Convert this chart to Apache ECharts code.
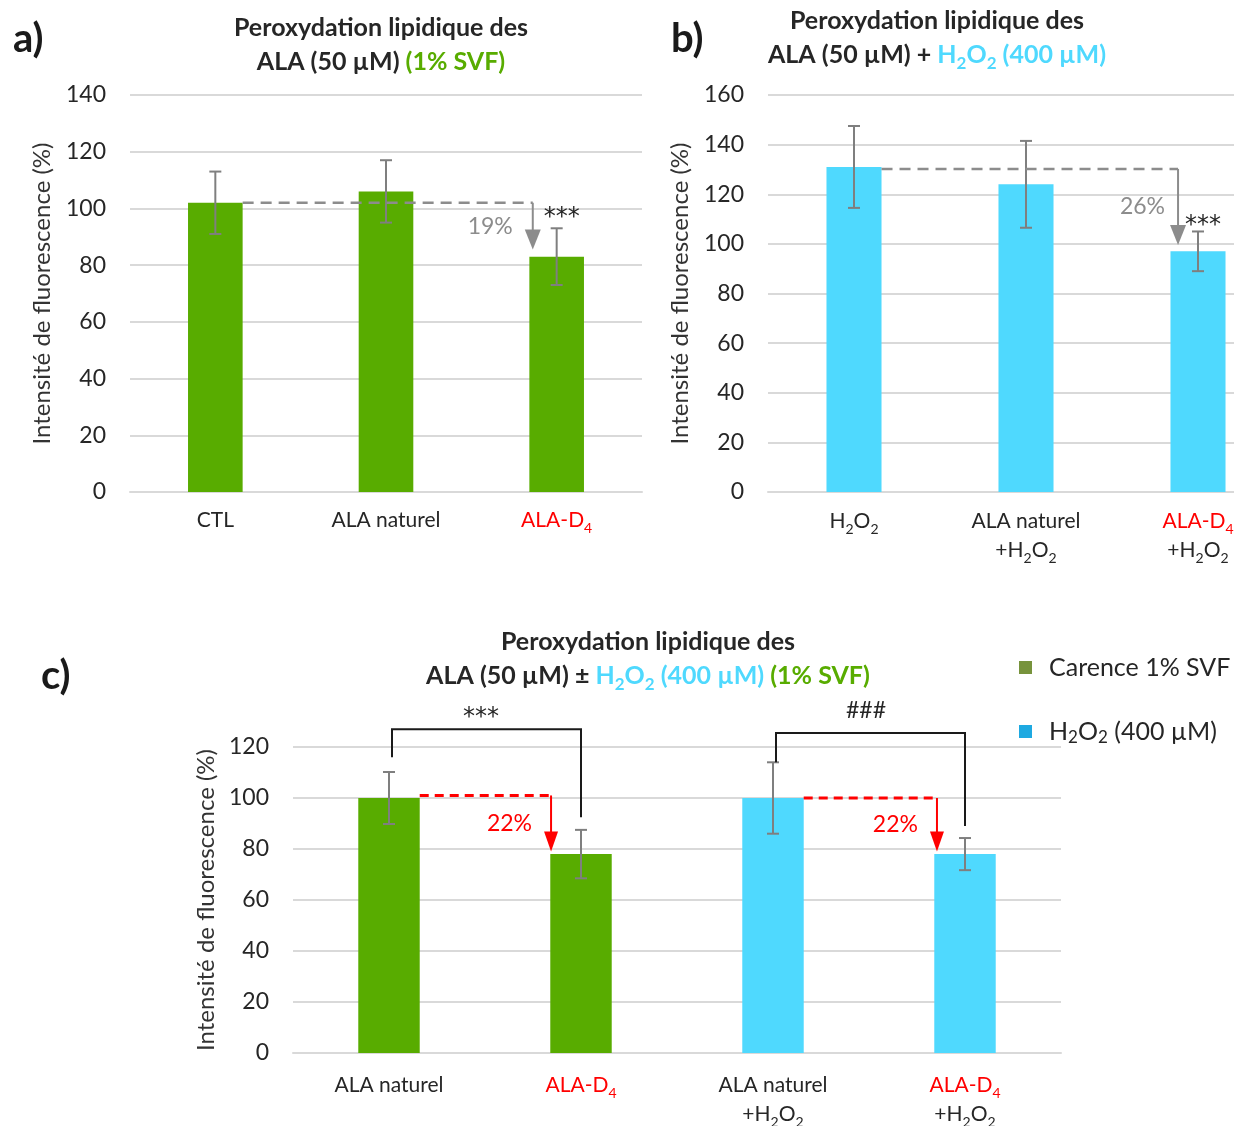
<!DOCTYPE html>
<html><head><meta charset="utf-8">
<script src="https://cdn.jsdelivr.net/npm/echarts@6/dist/echarts.min.js"></script>
<style>html,body{margin:0;padding:0;background:#fff}#c{width:1234px;height:1126px}</style>
</head><body><div id="c"></div>
<script>
// ---------- data ----------
const catsA = ['CTL', 'ALA naturel', 'ALA-D₄'];
const meanA = [102, 106, 83];
const sdA   = [11, 11, 10];

const catsB = ['H₂O₂', 'ALA naturel\n+H₂O₂', 'ALA-D₄\n+H₂O₂'];
const meanB = [131, 124, 97];
const sdB   = [16.5, 17.5, 8];

const catsC = ['ALA naturel', 'ALA-D₄', 'ALA naturel\n+H₂O₂', 'ALA-D₄\n+H₂O₂'];
const meanC_SVF  = [100, 78, null, null];
const meanC_H2O2 = [null, null, 100, 78];
const sdC   = [10.2, 9.5, 14, 6.3];
const meanC = [100, 78, 100, 78];

const seriesNamesC = ['Carence 1% SVF', 'H₂O₂ (400 µM)'];

// annotations: [fromCat, toCat, level, target]
const dropA = [[0, 2, 102, 85.5]];
const dropB = [[0, 2, 130.2, 99.5]];
const dropC = [[0, 1, 101, 79], [2, 3, 100, 79]];
const dropLabelA = ['19%'], dropLabelB = ['26%'], dropLabelC = ['22%', '22%'];
// brackets: [fromCat, toCat, leftBottom, top, rightBottom]
const bracketsC = [[0, 1, 116, 127, 92.5], [2, 3, 114, 125.5, 89]];
const bracketLabelsC = ['***', '###'];
const starA = [2], starB = [2];

// ---------- styles ----------
const FONT = 'Lato, "Noto Sans", sans-serif';
const STARFONT = '"DejaVu Sans", sans-serif';
const GREEN = '#58AC00', CYAN = '#4FD9FE';
const ERR = '#7f7f7f', GRID = '#d9d9d9', TXT = '#262626';

// turn text with unicode subscripts into rich tokens
function richify(s, key) {
  const map = {'₂': '2', '₄': '4'};
  let out = '', buf = '';
  for (const ch of s) {
    if (map[ch]) {
      if (buf) out += '{' + key + '|' + buf + '}';
      buf = '';
      out += '{' + key + 's|' + map[ch] + '}';
    } else buf += ch;
  }
  if (buf) out += '{' + key + '|' + buf + '}';
  return out;
}
function richStyles(key, color, size, weight, lh, subLh) {
  const o = {};
  o[key] = {color: color, fontSize: size, fontWeight: weight, fontFamily: FONT, lineHeight: lh};
  o[key + 's'] = {color: color, fontSize: Math.round(size * 0.68), fontWeight: weight, fontFamily: FONT,
                  lineHeight: subLh, verticalAlign: 'bottom'};
  return o;
}

function errData(mean, sd) {
  return mean.map((m, i) => [i, m - sd[i], m + sd[i]]);
}
function errRender(params, api) {
  const x = api.value(0);
  const lo = api.coord([x, api.value(1)]), hi = api.coord([x, api.value(2)]);
  const c = 6, st = {stroke: ERR, lineWidth: 2};
  return {type: 'group', children: [
    {type: 'line', shape: {x1: lo[0], y1: lo[1], x2: hi[0], y2: hi[1]}, style: st},
    {type: 'line', shape: {x1: hi[0]-c, y1: hi[1], x2: hi[0]+c, y2: hi[1]}, style: st},
    {type: 'line', shape: {x1: lo[0]-c, y1: lo[1], x2: lo[0]+c, y2: lo[1]}, style: st}
  ]};
}
function dropRenderFactory(labels, color, dashW, dash, arrowOff, headW, headH, barFrac, labelGap) {
  return function (params, api) {
    const f = api.value(0), t = api.value(1), lv = api.value(2), tg = api.value(3);
    const band = api.size([1, 0])[0];
    const p0 = api.coord([f, lv]);
    const p1 = api.coord([t, lv]);
    const pT = api.coord([t, tg]);
    const xs = p0[0] + band * barFrac / 2;
    const xa = p1[0] + band * arrowOff[params.dataIndex];
    const midY = (p1[1] + pT[1]) / 2;
    return {type: 'group', children: [
      {type: 'line', shape: {x1: xs, y1: p0[1], x2: xa, y2: p0[1]},
       style: {stroke: color, lineWidth: dashW, lineDash: dash}},
      {type: 'line', shape: {x1: xa, y1: p0[1], x2: xa, y2: pT[1] - headH + 2},
       style: {stroke: color, lineWidth: 2}},
      {type: 'polygon', shape: {points: [[xa - headW/2, pT[1] - headH], [xa + headW/2, pT[1] - headH], [xa, pT[1]]]},
       style: {fill: color}},
      {type: 'text', x: xa - labelGap, y: midY,
       style: {text: labels[params.dataIndex], fill: color, font: '23px ' + FONT, textAlign: 'right', textVerticalAlign: 'middle'}}
    ]};
  };
}
function starRenderFactory(mean, sd, dx, dy) {
  return function (params, api) {
    const i = api.value(0);
    const p = api.coord([i, mean[i] + sd[i]]);
    return {type: 'text', x: p[0] + dx, y: p[1] - dy,
      style: {text: '***', fill: TXT, font: '24px ' + STARFONT, textAlign: 'center', textVerticalAlign: 'middle'}};
  };
}
const bracketLabelDy = [11, 22], bracketLabelDx = [-4, -3];
const bracketLabelFont = ['24px ' + STARFONT, '23px ' + FONT];
function bracketRender(params, api) {
  const f = api.value(0), t = api.value(1), k = params.dataIndex;
  const a = api.coord([f, api.value(2)]), top = api.coord([f, api.value(3)]);
  const b = api.coord([t, api.value(4)]);
  const st = {stroke: '#1a1a1a', lineWidth: 2, fill: null};
  return {type: 'group', children: [
    {type: 'polyline', shape: {points: [[a[0]+3, a[1]], [a[0]+3, top[1]], [b[0], top[1]], [b[0], b[1]]]}, style: st},
    {type: 'text', x: (a[0] + b[0]) / 2 + bracketLabelDx[k], y: top[1] - bracketLabelDy[k],
     style: {text: bracketLabelsC[k], fill: TXT, font: bracketLabelFont[k], textAlign: 'center', textVerticalAlign: 'middle'}}
  ]};
}

const axisLabelRich = Object.assign({},
  richStyles('r', '#ff0000', 21, 'normal', 29, 27),
  richStyles('k', TXT, 21, 'normal', 29, 27));
function catFormatter(v) {
  return v.split('\n').map(s => richify(s, s.indexOf('ALA-D') === 0 ? 'r' : 'k')).join('\n');
}
function yAxis(gi, max, gap) {
  return {gridIndex: gi, type: 'value', min: 0, max: max, interval: 20,
    name: 'Intensité de fluorescence (%)', nameLocation: 'middle', nameGap: gap,
    nameTextStyle: {fontSize: 24, color: '#333', fontFamily: FONT},
    axisLabel: {fontSize: 23, color: TXT, fontFamily: FONT, margin: 24},
    axisLine: {show: false}, axisTick: {show: false},
    splitLine: {lineStyle: {color: GRID, width: 2}}};
}
function xAxis(gi, cats, margin) {
  return {gridIndex: gi, type: 'category', data: cats,
    axisLine: {lineStyle: {color: GRID, width: 2}}, axisTick: {show: false},
    axisLabel: {margin: margin, interval: 0, formatter: catFormatter, rich: axisLabelRich}};
}

const TS = 25, TLH = 34;
const titleRich = Object.assign({},
  richStyles('k', TXT, TS, 'bold', TLH, 20),
  richStyles('g', GREEN, TS, 'bold', TLH, 20),
  richStyles('c', CYAN, TS, 'bold', TLH, 20));
const line1 = richify('Peroxydation lipidique des', 'k');
const titleTextA = line1 + '\n' + richify('ALA (50 µM) ', 'k') + richify('(1% SVF)', 'g');
const titleTextB = line1 + '\n' + richify('ALA (50 µM) + ', 'k') + richify('H₂O₂ (400 µM)', 'c');
const titleTextC = line1 + '\n' + richify('ALA (50 µM) ± ', 'k') + richify('H₂O₂ (400 µM) ', 'c') + richify('(1% SVF)', 'g');
const panelLabel = {fontSize: 40, fontWeight: 'bold', color: '#1a1a1a', fontFamily: FONT};

const option = {
  animation: false,
  textStyle: {fontFamily: FONT},
  title: [
    {text: 'a)', left: 8, top: 14, textStyle: panelLabel},
    {text: 'b)', left: 666, top: 14, textStyle: panelLabel},
    {text: 'c)', left: 36, top: 651, textStyle: panelLabel},
    {text: titleTextA, left: 376, top: 6, textAlign: 'center', textStyle: {rich: titleRich}},
    {text: titleTextB, left: 932, top: -1, textAlign: 'center', textStyle: {rich: titleRich}},
    {text: titleTextC, left: 643, top: 620, textAlign: 'center', textStyle: {rich: titleRich}}
  ],
  legend: {
    left: 1014, top: 650, orient: 'vertical', itemGap: 39, itemWidth: 13, itemHeight: 13, icon: 'rect',
    formatter: name => richify(name, 'k'),
    textStyle: {padding: [0, 0, 0, 12], rich: richStyles('k', TXT, 25, 'normal', 30, 24)},
    data: [{name: seriesNamesC[0], itemStyle: {color: '#77933C'}}, {name: seriesNamesC[1], itemStyle: {color: '#1EA9E1'}}],
    selectedMode: false
  },
  grid: [
    {left: 130, top: 95, width: 512, height: 397, outerBoundsMode: 'none'},
    {left: 768, top: 95, width: 516, height: 397, outerBoundsMode: 'none'},
    {left: 293, top: 747, width: 768, height: 306, outerBoundsMode: 'none'}
  ],
  xAxis: [xAxis(0, catsA, 14), xAxis(1, catsB, 15), xAxis(2, catsC, 18)],
  yAxis: [yAxis(0, 140, 76), yAxis(1, 160, 76), yAxis(2, 120, 75)],
  series: [
    {type: 'bar', xAxisIndex: 0, yAxisIndex: 0, data: meanA, barWidth: '32%', itemStyle: {color: GREEN}},
    {type: 'custom', xAxisIndex: 0, yAxisIndex: 0, data: errData(meanA, sdA), renderItem: errRender, z: 5},
    {type: 'bar', xAxisIndex: 1, yAxisIndex: 1, data: meanB, barWidth: '32%', itemStyle: {color: CYAN}},
    {type: 'custom', xAxisIndex: 1, yAxisIndex: 1, data: errData(meanB, sdB), renderItem: errRender, z: 5},
    {name: seriesNamesC[0], type: 'bar', xAxisIndex: 2, yAxisIndex: 2, data: meanC_SVF, barWidth: '32%', barGap: '-100%', itemStyle: {color: GREEN}},
    {name: seriesNamesC[1], type: 'bar', xAxisIndex: 2, yAxisIndex: 2, data: meanC_H2O2, barWidth: '32%', barGap: '-100%', itemStyle: {color: CYAN}},
    {type: 'custom', xAxisIndex: 2, yAxisIndex: 2, data: errData(meanC, sdC), renderItem: errRender, z: 5},
    {type: 'custom', xAxisIndex: 0, yAxisIndex: 0, data: dropA, z: 6, clip: false,
     renderItem: dropRenderFactory(dropLabelA, '#8c8c8c', 2.5, [11, 7], [-0.14], 16, 20, 0.32, 20)},
    {type: 'custom', xAxisIndex: 1, yAxisIndex: 1, data: dropB, z: 6, clip: false,
     renderItem: dropRenderFactory(dropLabelB, '#8c8c8c', 2.5, [11, 7], [-0.116], 16, 20, 0.32, 13)},
    {type: 'custom', xAxisIndex: 2, yAxisIndex: 2, data: dropC, z: 6, clip: false,
     renderItem: dropRenderFactory(dropLabelC, '#ff0000', 3, [9, 6], [-0.156, -0.146], 14, 20, 0.32, 19)},
    {type: 'custom', xAxisIndex: 0, yAxisIndex: 0, data: starA.map(i => [i]), z: 6, clip: false,
     renderItem: starRenderFactory(meanA, sdA, 5, 11)},
    {type: 'custom', xAxisIndex: 1, yAxisIndex: 1, data: starB.map(i => [i]), z: 6, clip: false,
     renderItem: starRenderFactory(meanB, sdB, 5, 6)},
    {type: 'custom', xAxisIndex: 2, yAxisIndex: 2, data: bracketsC, z: 6, clip: false, renderItem: bracketRender}
  ]
};
const chart = echarts.init(document.getElementById('c'), null, {renderer: 'canvas'});
chart.setOption(option);
</script>
</body></html>
